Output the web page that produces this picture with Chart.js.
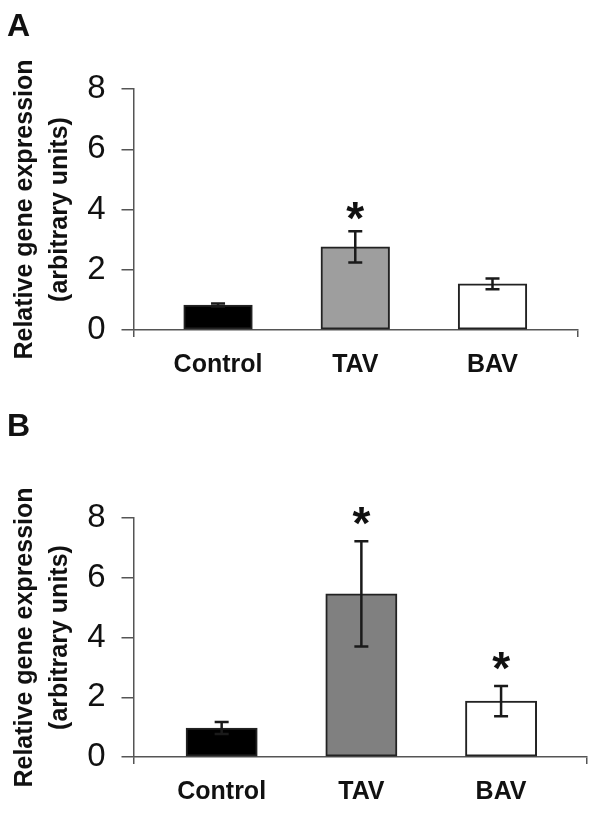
<!DOCTYPE html>
<html>
<head>
<meta charset="utf-8">
<script src="https://cdn.jsdelivr.net/npm/chart.js@4.4.1/dist/chart.umd.min.js"></script>
<style>
body { margin: 0; background: #fff; }
.panel { position: relative; width: 604px; }
.panel canvas { display: block; }
.letter { position: absolute; left: 7px; top: 9px; font: bold 32px 'Liberation Sans', Arial, sans-serif; line-height: 32px; color: #111; }
</style>
</head>
<body>
<div class="panel" style="height:400px"><div class="letter">A</div><canvas id="chartA" width="604" height="400"></canvas></div>
<div class="panel" style="height:414px"><div class="letter">B</div><canvas id="chartB" width="604" height="414"></canvas></div>
<script>
// values
const categories = ['Control', 'TAV', 'BAV'];
const yTicks = [0, 2, 4, 6, 8];

const meanA = [0.83, 2.76, 1.53];
const errA = [0.05, 0.52, 0.18];
const sigA = ['', '*', ''];
const colorsA = ['#000000', '#9e9e9e', '#ffffff'];

const meanB = [0.97, 5.46, 1.87];
const errB = [0.2, 1.76, 0.51];
const sigB = ['', '*', '*'];
const colorsB = ['#000000', '#808080', '#ffffff'];

const yTitle = ['Relative gene expression', '(arbitrary units)'];
const FONT = "'Liberation Sans', Arial, sans-serif";
const AXIS = '#555';

// error bars + significance stars, positioned from the y scale
const errorBarPlugin = {
    id: 'errorBars',
    afterDatasetsDraw(chart, args, opts) {
        const ctx = chart.ctx;
        const meta = chart.getDatasetMeta(0);
        const y = chart.scales.y;
        ctx.save();
        ctx.strokeStyle = '#1a1a1a';
        ctx.lineWidth = 2.5;
        ctx.fillStyle = '#111';
        ctx.font = 'bold 46px ' + FONT;
        ctx.textAlign = 'center';
        meta.data.forEach((bar, i) => {
            const top = y.getPixelForValue(opts.means[i] + opts.errors[i]);
            const bottom = y.getPixelForValue(opts.means[i] - opts.errors[i]);
            ctx.beginPath();
            ctx.moveTo(bar.x, top);
            ctx.lineTo(bar.x, bottom);
            ctx.moveTo(bar.x - 7, top);
            ctx.lineTo(bar.x + 7, top);
            ctx.moveTo(bar.x - 7, bottom);
            ctx.lineTo(bar.x + 7, bottom);
            ctx.stroke();
            if (opts.sig[i]) {
                const m = ctx.measureText(opts.sig[i]);
                const mid = (m.actualBoundingBoxAscent - m.actualBoundingBoxDescent) / 2;
                ctx.fillText(opts.sig[i], bar.x, top - opts.gap + mid);
            }
        });
        ctx.restore();
    }
};

function renderChart(canvasId, means, errors, sig, colors, cfg) {
    const ctx = document.getElementById(canvasId).getContext('2d');
    return new Chart(ctx, {
        type: 'bar',
        data: {
            datasets: [{
                data: means.map((v, i) => ({ x: i, y: v })),
                backgroundColor: colors,
                borderColor: '#222',
                borderWidth: 2,
                borderSkipped: false,
                barThickness: 'flex',
                categoryPercentage: 1,
                barPercentage: cfg.barPct
            }]
        },
        options: {
            responsive: false,
            animation: false,
            layout: { padding: { top: cfg.top, right: cfg.right, bottom: 0, left: 0 } },
            plugins: {
                legend: { display: false },
                tooltip: { enabled: false },
                errorBars: { means: means, errors: errors, sig: sig, gap: cfg.gap }
            },
            scales: {
                x: {
                    type: 'linear',
                    min: cfg.xMin,
                    max: cfg.xMax,
                    offset: false,
                    afterBuildTicks: (s) => {
                        s.ticks = [s.min].concat(categories.map((c, i) => i), [s.max]).map(v => ({ value: v }));
                    },
                    afterFit: (s) => { s.height = cfg.xHeight; },
                    grid: {
                        drawOnChartArea: false,
                        offset: false,
                        tickLength: 7,
                        lineWidth: 1.5,
                        color: (c) => (c.tick && Number.isInteger(c.tick.value)) ? 'rgba(0,0,0,0)' : AXIS
                    },
                    border: { display: true, color: AXIS, width: 1.5 },
                    ticks: {
                        autoSkip: false,
                        maxRotation: 0,
                        padding: 13,
                        color: '#111',
                        font: { family: FONT, size: 25, weight: 'bold' },
                        callback: (v) => categories[v] !== undefined ? categories[v] : ''
                    }
                },
                y: {
                    min: 0,
                    max: 8,
                    afterBuildTicks: (s) => { s.ticks = yTicks.map(v => ({ value: v })); },
                    afterFit: (s) => { s.width = 133.5; },
                    grid: { drawOnChartArea: false, tickLength: 12, color: AXIS, lineWidth: 1.5 },
                    border: { display: true, color: AXIS, width: 1.5 },
                    ticks: {
                        padding: 16,
                        color: '#111',
                        font: { family: FONT, size: 33 }
                    },
                    title: {
                        display: true,
                        text: yTitle,
                        color: '#111',
                        padding: { top: 7.5, bottom: 0 },
                        font: { family: FONT, size: 25, weight: 'bold', lineHeight: 1.4 }
                    }
                }
            }
        },
        plugins: [errorBarPlugin]
    });
}

renderChart('chartA', meanA, errA, sigA, colorsA,
    { top: 89, right: 26, xHeight: 70, xMin: -0.616, xMax: 2.623, barPct: 0.5, gap: 20 });
renderChart('chartB', meanB, errB, sigB, colorsB,
    { top: 118, right: 17, xHeight: 57, xMin: -0.631, xMax: 2.615, barPct: 0.51, gap: 25 });
</script>
</body>
</html>
